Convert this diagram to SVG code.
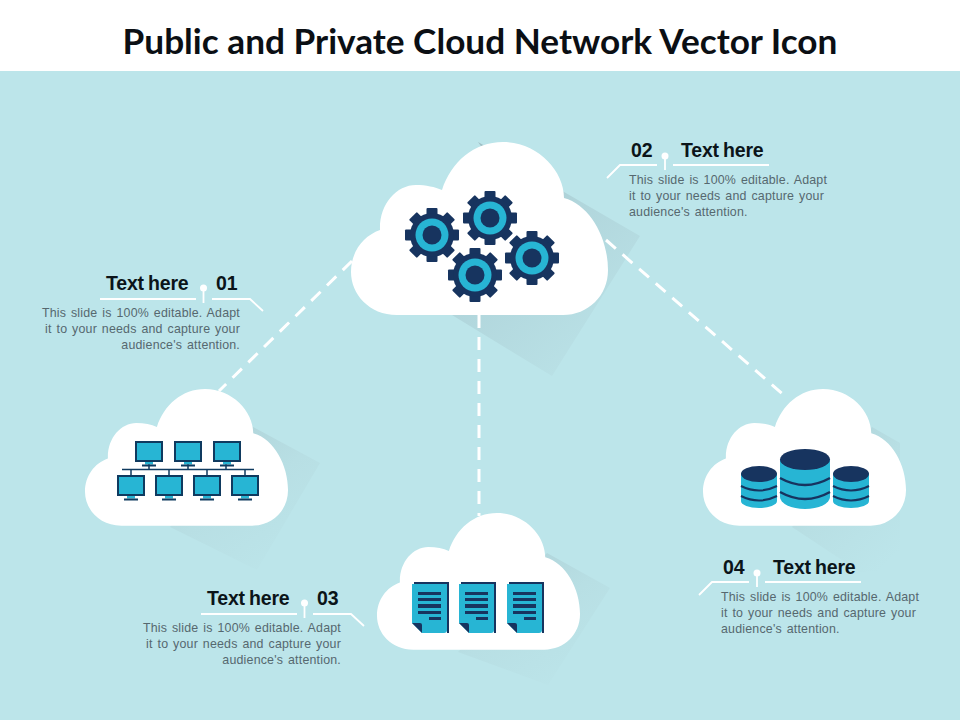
<svg xmlns="http://www.w3.org/2000/svg" width="960" height="720" viewBox="0 0 960 720">
<style>
.title{font-family:"Lato","Liberation Sans",sans-serif;font-size:35.200px;font-weight:700;fill:#0b0f14;text-anchor:middle}
.head{font-family:"Liberation Sans",Arial,sans-serif;font-size:19.500px;font-weight:700;fill:#0b1419;letter-spacing:-.2px;word-spacing:-1px}
.body{font-family:"Liberation Sans",Arial,sans-serif;font-size:12.400px;fill:#56686f;letter-spacing:.2px;word-spacing:1.200px}
.e{text-anchor:end}
.navy{fill:#17345f}.cyan{fill:#27b5d4}
.lead{fill:none;stroke:#fff;stroke-width:1.800}
.dash{fill:none;stroke:#fff;stroke-width:3;stroke-dasharray:13 9}
</style>
<defs>
<linearGradient id="sh" x1="0.1" y1="0" x2="0.8" y2="1"><stop offset="0" stop-color="#9dbcc2"/><stop offset=".45" stop-color="#b1d6dc"/><stop offset="1" stop-color="#bbe3e8"/></linearGradient>
<linearGradient id="sh2" x1="0.1" y1="0" x2="0.8" y2="1"><stop offset="0" stop-color="#aed1d7"/><stop offset=".5" stop-color="#b8dfe4"/><stop offset="1" stop-color="#bce5ea"/></linearGradient>
<path id="cloud" fill="#fff" d="M397 315C369 315 351 294 351 272C351 252 363 236 380 230C379 205 396 185 416 185C426 185 435 187 442 190C451 162 474 142 503 142C537 142 564 170 564 198C590 205 608 238 608 270C608 296 588 315 563 315Z"/>
<g id="gear"><g class="navy"><rect x="-5.500" y="-27" width="11" height="54" rx="1"/><rect x="-5.500" y="-27" width="11" height="54" rx="1" transform="rotate(45)"/><rect x="-5.500" y="-27" width="11" height="54" rx="1" transform="rotate(90)"/><rect x="-5.500" y="-27" width="11" height="54" rx="1" transform="rotate(135)"/><circle r="22"/></g><circle class="cyan" r="16.500"/><circle class="navy" r="9.500"/></g>
<g id="mon"><rect x="1" y="1" width="26" height="19" fill="#27b5d4" stroke="#0f3a5f" stroke-width="2"/><rect x="10" y="21" width="8" height="2.500" class="cyan"/><rect x="7" y="23.500" width="14" height="2" fill="#0f3a5f"/></g>
<g id="doc"><path class="navy" d="M2 0H37V51H35V3H2Z"/><path class="cyan" d="M0 2H35V48Q35 51 32 51H10L0 41Z"/><path class="navy" d="M0 41L10 51V43Q10 41 8 41Z"/><g class="navy"><rect x="6" y="10" width="23" height="3"/><rect x="6" y="16" width="23" height="3"/><rect x="6" y="22" width="23" height="4"/><rect x="6" y="29" width="23" height="3"/><rect x="17" y="35" width="12" height="3"/></g></g>
<g id="dbs"><path class="cyan" d="M0 7V35A18 7 0 0 0 36 35V7Z"/><ellipse class="navy" cx="18" cy="8" rx="18" ry="8"/><path d="M0 20Q18 29 36 20M0 30Q18 39 36 30" fill="none" stroke="#17345f" stroke-width="2"/></g>
</defs>

<rect width="960" height="720" fill="#fff"/>
<rect y="71" width="960" height="649" fill="#bce5ea"/>
<text id="title" class="title" x="480" y="54">Public and Private Cloud Network Vector Icon</text>

<g id="shadows">
<polygon points="478,142 640,236 552,376 452,315 520,200" fill="url(#sh)"/>
<polygon points="253,427 320,463 257,570 170,527" fill="url(#sh2)"/>
<polygon points="547,553 610,588 548,685 458,652" fill="url(#sh2)"/>
<polygon points="872,427 900,443 900,570 860,572 792,527" fill="url(#sh2)"/>
</g>

<g id="connectors">
<path class="dash" d="M352 261L219 391"/>
<path class="dash" d="M479 315V516"/>
<path class="dash" d="M606 240L786 397"/>
</g>

<g id="node-center">
<use href="#cloud"/>
<use href="#gear" x="432" y="235"/>
<use href="#gear" x="490" y="218"/>
<use href="#gear" x="532" y="258"/>
<use href="#gear" x="475" y="275"/>
</g>

<g id="node-network">
<use href="#cloud" transform="translate(-192.300 276.800) scale(.79)"/>
<path d="M122 469.500H254M149 462V469.500M188 462V469.500M226 462V469.500M131 469.500V476M169 469.500V476M207 469.500V476M245 469.500V476" fill="none" stroke="#0f3a5f" stroke-width="1.500"/>
<use href="#mon" x="135" y="441"/>
<use href="#mon" x="174" y="441"/>
<use href="#mon" x="213" y="441"/>
<use href="#mon" x="117" y="475"/>
<use href="#mon" x="155" y="475"/>
<use href="#mon" x="193" y="475"/>
<use href="#mon" x="231" y="475"/>
</g>

<g id="node-documents">
<use href="#cloud" transform="translate(99.700 400.800) scale(.79)"/>
<use href="#doc" x="412" y="582"/>
<use href="#doc" x="459" y="582"/>
<use href="#doc" x="507" y="582"/>
</g>

<g id="node-database">
<use href="#cloud" transform="translate(425.700 276.800) scale(.79)"/>
<use href="#dbs" x="741" y="466"/>
<use href="#dbs" x="833" y="466"/>
<path class="cyan" d="M780 459V497A25 12 0 0 0 830 497V459Z"/>
<ellipse class="navy" cx="805" cy="459.500" rx="25" ry="10.500"/>
<path d="M780 478Q805 492 830 478M780 492Q805 506 830 492" fill="none" stroke="#17345f" stroke-width="2.500"/>
</g>

<g id="callout-01">
<text class="head" x="106" y="290">Text here</text><text class="head" x="216" y="290">01</text>
<path class="lead" d="M100 299H196M212 299H250L263 311M203.500 288V303"/><circle cx="203.500" cy="288" r="3.500" fill="#fff"/>
<text class="body e" x="240" y="317">This slide is 100% editable. Adapt</text>
<text class="body e" x="240" y="333">it to your needs and capture your</text>
<text class="body e" x="240" y="349">audience's attention.</text>
</g>
<g id="callout-02">
<text class="head" x="631" y="157">02</text><text class="head" x="681" y="157">Text here</text>
<path class="lead" d="M607 178L620 165H657M673 165H769M665 156V170"/><circle cx="665" cy="156" r="3.500" fill="#fff"/>
<text class="body" x="629" y="184">This slide is 100% editable. Adapt</text>
<text class="body" x="629" y="200">it to your needs and capture your</text>
<text class="body" x="629" y="216">audience's attention.</text>
</g>
<g id="callout-03">
<text class="head" x="207" y="605">Text here</text><text class="head" x="317" y="605">03</text>
<path class="lead" d="M201 614H297M313 614H351L364 626M304.500 603V618"/><circle cx="304.500" cy="603" r="3.500" fill="#fff"/>
<text class="body e" x="341" y="632">This slide is 100% editable. Adapt</text>
<text class="body e" x="341" y="648">it to your needs and capture your</text>
<text class="body e" x="341" y="664">audience's attention.</text>
</g>
<g id="callout-04">
<text class="head" x="723" y="574">04</text><text class="head" x="773" y="574">Text here</text>
<path class="lead" d="M699 595L712 582H749M765 582H861M757 573V587"/><circle cx="757" cy="573" r="3.500" fill="#fff"/>
<text class="body" x="721" y="601">This slide is 100% editable. Adapt</text>
<text class="body" x="721" y="617">it to your needs and capture your</text>
<text class="body" x="721" y="633">audience's attention.</text>
</g>
</svg>
